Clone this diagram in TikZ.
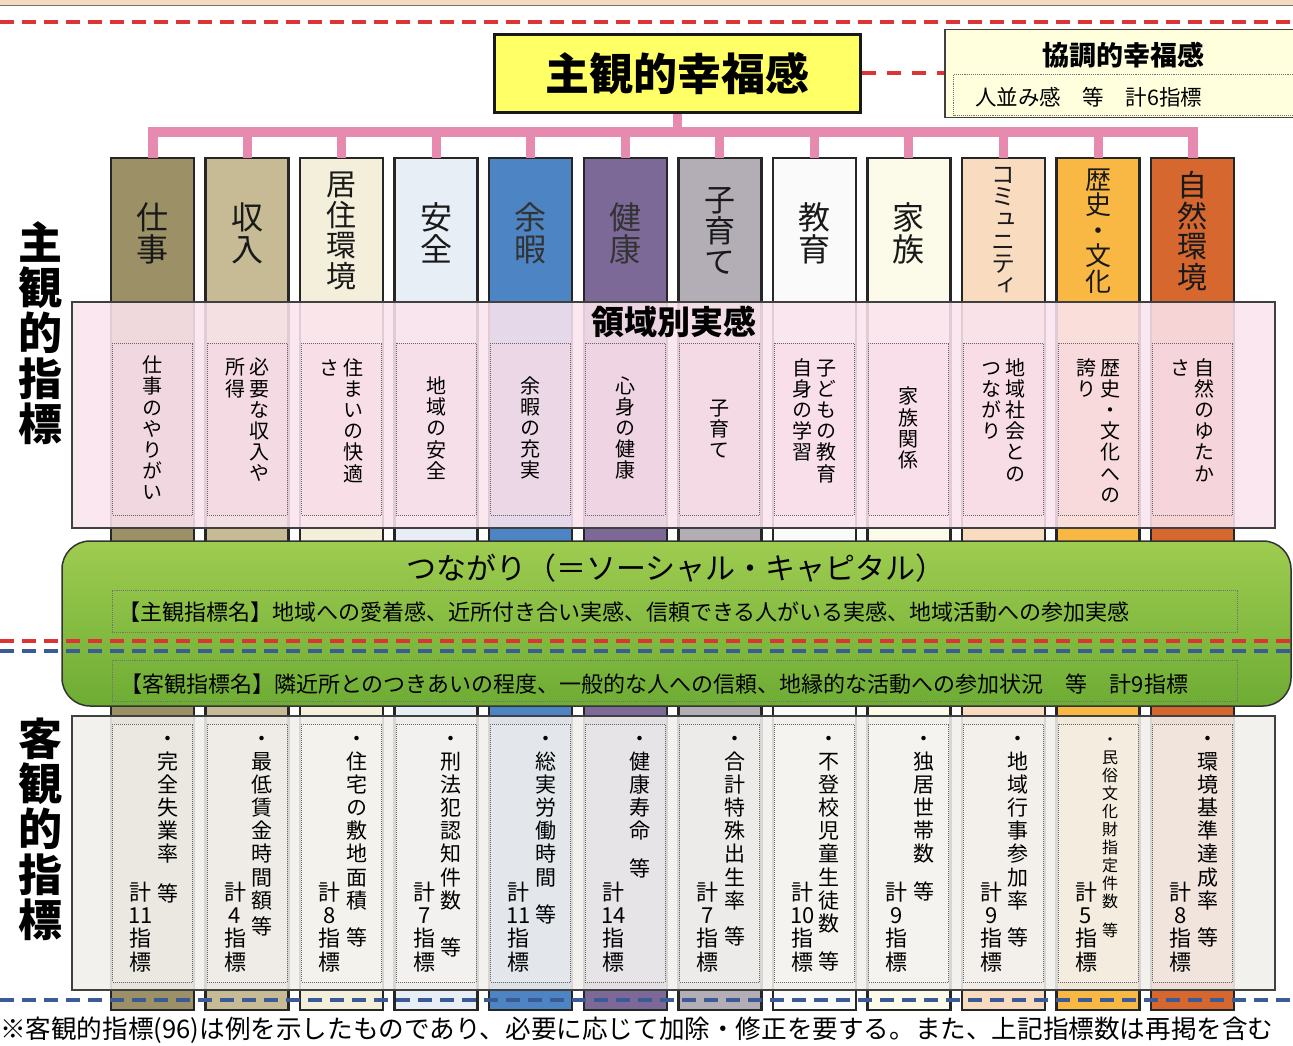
\documentclass[tikz,border=0pt]{standalone}
\usepackage{fontspec}
\setmainfont{Noto Sans CJK JP}
\newfontfamily\jp{Noto Sans CJK JP}
\newfontfamily\jpv{Noto Sans CJK JP}[RawFeature={+vert}]
\newcommand\fs[1]{\fontsize{#1}{#1}\selectfont}
\ExplSyntaxOn
\NewDocumentCommand\Vcol{O{1.05}m}
 {
  \vtop
   {
    \setlength\baselineskip{#1em}
    \lineskiplimit=-\maxdimen
    \tl_map_inline:nn {#2} { \hbox_to_wd:nn {1em} { \hss ##1 \hss } }
   }
 }
\ExplSyntaxOff
\newcommand\VV[3][1.05]{\Vcol[#1]{#3}\hspace{4pt}\Vcol[#1]{#2}}
\newcommand\lo[2]{\raisebox{-#1em}{#2}}
\definecolor{cA}{RGB}{156,145,102}
\definecolor{cB}{RGB}{198,187,148}
\definecolor{cC}{RGB}{243,239,219}
\definecolor{cD}{RGB}{232,238,246}
\definecolor{cE}{RGB}{76,132,196}
\definecolor{cF}{RGB}{124,105,151}
\definecolor{cG}{RGB}{179,174,182}
\definecolor{cH}{RGB}{250,250,250}
\definecolor{cI}{RGB}{252,250,232}
\definecolor{cJ}{RGB}{249,220,192}
\definecolor{cK}{RGB}{248,184,67}
\definecolor{cL}{RGB}{213,103,47}
\definecolor{PinkT}{RGB}{230,138,176}
\definecolor{PanelP}{RGB}{251,228,238}
\definecolor{PanelG}{RGB}{241,239,236}
\definecolor{YellowM}{RGB}{255,255,102}
\definecolor{YellowL}{RGB}{255,255,222}
\definecolor{RedD}{RGB}{220,52,52}
\definecolor{BlueD}{RGB}{60,90,150}
\definecolor{GreenT}{RGB}{158,204,80}
\definecolor{GreenB}{RGB}{110,172,52}
\definecolor{Peach}{RGB}{246,218,192}
\begin{document}
\begin{tikzpicture}[x=1pt,y=-1pt,
  colbox/.style={draw=black!85,line width=2.5pt,minimum width=83pt,minimum height=852pt,anchor=north,inner sep=0pt,outer sep=0pt},
  pkline/.style={draw=PinkT,line width=10pt},
  pkdrop/.style={draw=PinkT,line width=9pt},
  toplab/.style={inner sep=0pt,text=black!90},
  panelA/.style={draw=black!75,line width=1.3pt,fill=PanelP,fill opacity=0.88,minimum width=1203pt,minimum height=226pt,inner sep=0pt},
  panelB/.style={draw=black!75,line width=1.3pt,fill=PanelG,fill opacity=0.88,minimum width=1203pt,minimum height=274pt,inner sep=0pt},
  pinkin/.style={draw=black!60,densely dotted,line width=1pt,fill=PinkT!35,fill opacity=0.4,minimum width=80pt,minimum height=172pt,inner sep=0pt},
  grayin/.style={draw=black!60,densely dotted,line width=1pt,fill=white,fill opacity=0.2,minimum width=80pt,minimum height=258pt,inner sep=0pt},
  ptext/.style={inner sep=0pt,font=\jpv\fs{20}},
  btext/.style={inner sep=0pt,font=\jpv\fs{21},anchor=north},
  ltext/.style={inner sep=0pt,font=\jpv\fs{22},anchor=south},
  greenin/.style={draw=black!55,densely dotted,line width=0.9pt,minimum width=1125pt,inner sep=0pt},
  reddash/.style={draw=RedD,line width=4pt,dash pattern=on 14pt off 8pt},
  bluedash/.style={draw=BlueD,line width=4pt,dash pattern=on 14pt off 8pt}]
\useasboundingbox (0,0) rectangle (1293,1046);
\fill[Peach] (0,0) rectangle (1293,5);
\draw[black!55,line width=1.5pt] (0,5.5) -- (1293,5.5);
% columns
\foreach \i/\c in {1/cA,2/cB,3/cC,4/cD,5/cE,6/cF,7/cG,8/cH,9/cI,10/cJ,11/cK,12/cL}{
  \node[colbox,fill=\c] (c\i) at ({152.5+94.55*(\i-1)},158) {};
}
% main boxes
\node[draw=black!90,line width=3pt,fill=YellowM,minimum width=366pt,minimum height=78pt,inner sep=0pt,font=\jp\bfseries\fs{44}] (main) at (677.5,73.5) {主観的幸福感};
\node[draw=black!75,line width=1.5pt,fill=YellowL,minimum width=352pt,minimum height=88pt,inner sep=0pt] (kyo) at (1121,73.5) {};
\node[font=\jp\bfseries\fs{27},inner sep=0pt] (kyot) at (1123,55) {協調的幸福感};
\node[draw=black!55,densely dotted,line width=0.9pt,minimum width=345pt,minimum height=41pt,inner sep=0pt] (kyoin) at (1126,95) {};
\node[font=\jp\fs{21.5},anchor=west,inner sep=0pt] (kyotx) at (975,97) {人並み感　等　計6指標};
\draw[reddash,dash pattern=on 14pt off 11pt] (main.east) -- (kyo.west);
% pink tree
\coordinate (bar) at (0,132);
\draw[pkline] (c1.north) -- (c1.north |- bar) -- (c12.north |- bar) -- (c12.north);
\foreach \i in {2,...,11}{\draw[pkdrop] (c\i.north |- bar) -- (c\i.north);}
\draw[pkdrop] (main.south) -- (main.south |- bar);
% top labels
\node[toplab,font=\jpv\fs{32}] (t1) at (152.5,233) {\Vcol[1.0]{仕事}};
\node[toplab,font=\jpv\fs{32}] (t2) at (247.05,233) {\Vcol[1.0]{収入}};
\node[toplab,font=\jpv\fs{30}] (t3) at (341.6,231) {\Vcol[1.02]{居住環境}};
\node[toplab,font=\jpv\fs{32}] (t4) at (436.15,233) {\Vcol[1.0]{安全}};
\node[toplab,font=\jpv\fs{32},text=black!80] (t5) at (530.7,233) {\Vcol[1.0]{余暇}};
\node[toplab,font=\jpv\fs{32},text=black!80] (t6) at (625.25,233) {\Vcol[1.0]{健康}};
\node[toplab,font=\jpv\fs{31}] (t7) at (719.8,231) {\Vcol[1.0]{子育て}};
\node[toplab,font=\jpv\fs{32}] (t8) at (814.35,233) {\Vcol[1.0]{教育}};
\node[toplab,font=\jpv\fs{32}] (t9) at (908.9,233) {\Vcol[1.0]{家族}};
\node[toplab,font=\jpv\fs{24}] (t10) at (1003.45,231) {\Vcol[0.92]{コミュニティ}};
\node[toplab,font=\jpv\fs{26}] (t11) at (1098,231) {\Vcol[0.98]{歴史・文化}};
\node[toplab,font=\jpv\fs{30}] (t12) at (1192.55,231) {\Vcol[1.02]{自然環境}};
% panel A
\node[panelA] (pA) at (673.5,415) {};
\node[font=\jp\bfseries\fs{33},inner sep=0pt] (pAt) at (674,322) {領域別実感};
\foreach \i in {1,...,12}{\node[pinkin] (p\i) at ({152.5+94.55*(\i-1)},429) {};}
\node[ptext] (q1) at (152.5,428) {\Vcol[1.06]{仕事のやりがい}};
\node[ptext,anchor=north] (q2) at (247.05,358) {\VV[1.06]{必要な収入や}{所得}};
\node[ptext,anchor=north] (q3) at (341.6,358) {\VV[1.06]{住まいの快適}{さ}};
\node[ptext] (q4) at (436.15,428) {\Vcol[1.06]{地域の安全}};
\node[ptext] (q5) at (530.7,428) {\Vcol[1.06]{余暇の充実}};
\node[ptext] (q6) at (625.25,428) {\Vcol[1.06]{心身の健康}};
\node[ptext] (q7) at (719.8,429) {\Vcol[1.06]{子育て}};
\node[ptext,anchor=north] (q8) at (814.35,358) {\VV[1.06]{子どもの教育}{自身の学習}};
\node[ptext] (q9) at (908.9,428) {\Vcol[1.06]{家族関係}};
\node[ptext,anchor=north] (q10) at (1003.45,358) {\VV[1.06]{地域社会との}{つながり}};
\node[ptext,anchor=north] (q11) at (1098,358) {\VV[1.06]{歴史・文化への}{誇り}};
\node[ptext,anchor=north] (q12) at (1192.55,358) {\VV[1.06]{自然のゆたか}{さ}};
% panel B
\node[panelB] (pB) at (673.5,853) {};
\foreach \i in {1,...,12}{\node[grayin] (g\i) at ({152.5+94.55*(\i-1)},853) {};}
\node[btext] (r1) at (167.5,736) {\Vcol[1.1]{・完全失業率{\lo{0.78}{等}}}};
\node[btext] (r2) at (262.05,736) {\Vcol[1.1]{・最低賃金時間額{\lo{0.15}{等}}}};
\node[btext] (r3) at (356.6,736) {\Vcol[1.1]{・住宅の敷地面積{\lo{0.7}{等}}}};
\node[btext] (r4) at (451.15,736) {\Vcol[1.1]{・刑法犯認知件数{\lo{1.18}{等}}}};
\node[btext] (r5) at (545.7,736) {\Vcol[1.1]{・総実労働時間{\lo{0.7}{等}}}};
\node[btext] (r6) at (640.25,736) {\Vcol[1.1]{・健康寿命{\lo{0.7}{等}}}};
\node[btext] (r7) at (734.8,736) {\Vcol[1.1]{・合計特殊出生率{\lo{0.63}{等}}}};
\node[btext] (r8) at (829.35,736) {\Vcol[1.1]{・不登校児童生徒数{\lo{0.7}{等}}}};
\node[btext] (r9) at (923.9,736) {\Vcol[1.1]{・独居世帯数{\lo{0.7}{等}}}};
\node[btext] (r10) at (1018.45,736) {\Vcol[1.1]{・地域行事参加率{\lo{0.7}{等}}}};
\node[btext,font=\jpv\fs{16}] (r11) at (1110,738) {\Vcol[1.12]{・民俗文化財指定件数{\lo{0.7}{等}}}};
\node[btext] (r12) at (1207.55,736) {\Vcol[1.1]{・環境基準達成率{\lo{0.7}{等}}}};
\node[ltext] (s1) at (140.5,972) {\Vcol[1.05]{計{11}指標}};
\node[ltext] (s2) at (235.05,972) {\Vcol[1.05]{計4指標}};
\node[ltext] (s3) at (329.6,972) {\Vcol[1.05]{計8指標}};
\node[ltext] (s4) at (424.15,972) {\Vcol[1.05]{計7指標}};
\node[ltext] (s5) at (518.7,972) {\Vcol[1.05]{計{11}指標}};
\node[ltext] (s6) at (613.25,972) {\Vcol[1.05]{計{14}指標}};
\node[ltext] (s7) at (707.8,972) {\Vcol[1.05]{計7指標}};
\node[ltext] (s8) at (802.35,972) {\Vcol[1.05]{計{10}指標}};
\node[ltext] (s9) at (896.9,972) {\Vcol[1.05]{計9指標}};
\node[ltext] (s10) at (991.45,972) {\Vcol[1.05]{計9指標}};
\node[ltext] (s11) at (1086,972) {\Vcol[1.05]{計5指標}};
\node[ltext] (s12) at (1180.55,972) {\Vcol[1.05]{計8指標}};
% green band
\node[draw=black!80,line width=1.5pt,rounded corners=28pt,top color=GreenT,bottom color=GreenB,minimum width=1229pt,minimum height=165pt,inner sep=0pt] (gb) at (676.5,623.5) {};
\node[font=\jp\fs{30},inner sep=0pt] (gbt) at (676,568) {つながり（＝ソーシャル・キャピタル）};
\node[greenin,minimum height=42pt] (gi1) at (674.5,611) {};
\node[greenin,minimum height=41pt] (gi2) at (674.5,680.5) {};
\node[font=\jp\fs{22},anchor=west,inner sep=0pt] (gt1) at (118,612) {【主観指標名】地域への愛着感、近所付き合い実感、信頼できる人がいる実感、地域活動への参加実感};
\node[font=\jp\fs{22},anchor=west,inner sep=0pt] (gt2) at (120,684) {【客観指標名】隣近所とのつきあいの程度、一般的な人への信頼、地縁的な活動への参加状況　等　計9指標};
% dashed separators
\draw[reddash] (0,22) -- (1293,22);
\draw[reddash] (0,641) -- (1293,641);
\draw[bluedash] (0,651) -- (1293,651);
\draw[bluedash] (0,1000) -- (1293,1000);
% left labels
\node[font=\jpv\bfseries\fs{44},inner sep=0pt] (lab1) at (40,333) {\Vcol[1.03]{主観的指標}};
\node[font=\jpv\bfseries\fs{44},inner sep=0pt] (lab2) at (40,829) {\Vcol[1.03]{客観的指標}};
% footnote
\node[font=\jp\fs{25.6},anchor=west,inner sep=0pt] (foot) at (0,1030) {※客観的指標(96)は例を示したものであり、必要に応じて加除・修正を要する。また、上記指標数は再掲を含む};
\end{tikzpicture}
\end{document}
